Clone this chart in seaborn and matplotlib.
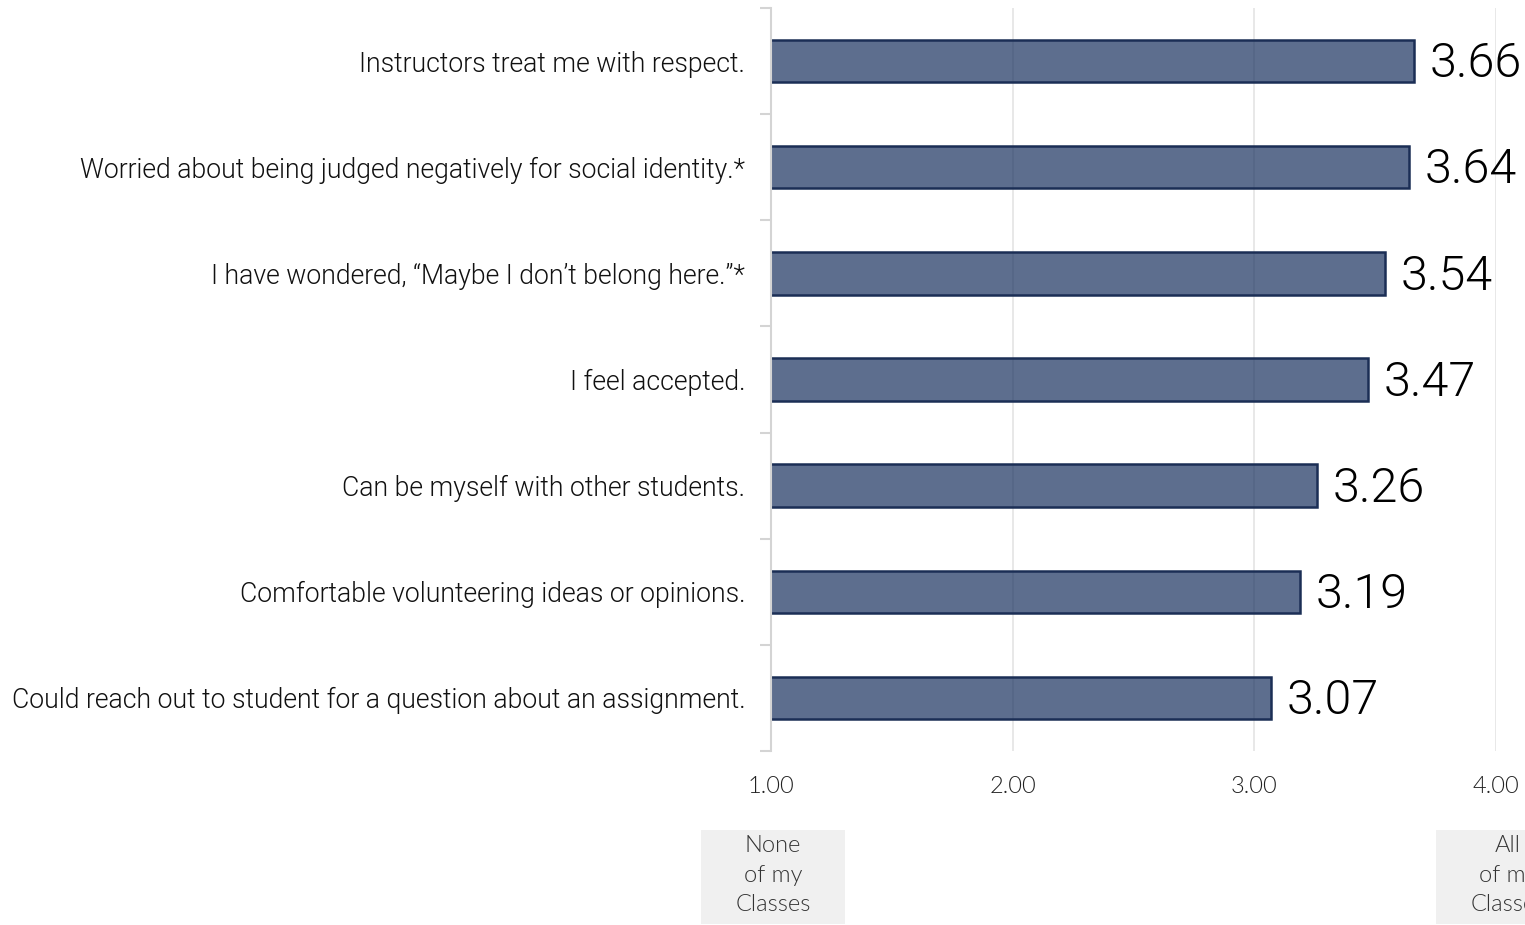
import os
import matplotlib
matplotlib.use("Agg")
import matplotlib.pyplot as plt
from matplotlib import font_manager as fm
from matplotlib.font_manager import FontProperties
from matplotlib.patches import Rectangle
from matplotlib.colors import to_rgba
import seaborn as sns
import pandas as pd

items = [
    "Instructors treat me with respect.",
    "Worried about being judged negatively for social identity.*",
    "I have wondered, \u201cMaybe I don\u2019t belong here.\u201d*",
    "I feel accepted.",
    "Can be myself with other students.",
    "Comfortable volunteering ideas or opinions.",
    "Could reach out to student for a question about an assignment.",
]
scores = [3.66, 3.64, 3.54, 3.47, 3.26, 3.19, 3.07]
x_ticks = [1.0, 2.0, 3.0, 4.0]
scale_ends = ["None\nof my\nClasses", "All\nof my\nClasses"]

sns.set_theme(style="white")
plt.rcParams["font.family"] = ["Roboto", "DejaVu Sans"]


def font(basename, family, weight, size):
    """Pick a specific font file when present, else fall back to family/weight."""
    for f in fm.fontManager.ttflist:
        if os.path.basename(f.fname) == basename:
            return FontProperties(fname=f.fname, size=size)
    return FontProperties(family=family, weight=weight, size=size)


roboto_label = font("Roboto-Light.ttf", "Roboto", "light", 19.2)
roboto_value = font("Roboto-Light.ttf", "Roboto", "light", 34.8)
lato_tick = font("Lato-Light.ttf", "Lato", "light", 17)
lato_box = font("Lato-Light.ttf", "Lato", "light", 17)

df = pd.DataFrame({"item": items, "score": scores})

fig = plt.figure(figsize=(15.25, 9.25), dpi=100)
W, H = 1525, 925
ax = fig.add_axes([771 / W, 1 - 751 / H, (1496 - 771) / W, (751 - 8) / H])

sns.barplot(data=df, x="score", y="item", orient="h", width=0.4, ax=ax,
            color="#203864", zorder=2)
face = to_rgba("#1e3662", 0.72)
for p in ax.patches:
    p.set_facecolor(face)
    p.set_edgecolor("#1b2e55")
    p.set_linewidth(1.8)

ax.set_xlim(1.0, 4.0)
ax.set_ylim(6.5, -0.5)
ax.set_xlabel("")
ax.set_ylabel("")

# value labels
for i, v in enumerate(scores):
    ax.text(v + 0.065, i + 0.03, f"{v:.2f}", va="center", ha="left",
            fontproperties=roboto_value, color="#000000", clip_on=False)

# grid and axes styling
ax.set_xticks(x_ticks)
ax.set_xticklabels([f"{t:.2f}" for t in x_ticks], fontproperties=lato_tick,
                   color="#222222")
for t in x_ticks[1:]:
    ax.axvline(t, color="#e6e6e6", lw=1.3, zorder=0)
ax.tick_params(axis="x", length=0, pad=18)

ax.tick_params(axis="y", which="major", length=0, pad=18.5)
for lab in ax.get_yticklabels():
    lab.set_fontproperties(roboto_label)
    lab.set_color("#111111")
ax.set_yticks([i + 0.5 for i in range(-1, len(items))], minor=True)
ax.tick_params(axis="y", which="minor", length=8, width=1.5, color="#d4d4d4", left=True)

for s in ["top", "right", "bottom"]:
    ax.spines[s].set_visible(False)
ax.spines["left"].set_color("#d4d4d4")
ax.spines["left"].set_linewidth(1.5)

# scale anchor boxes below the axis
for cx, txt in [(773, scale_ends[0]), (1508, scale_ends[1])]:
    fig.patches.append(Rectangle(((cx - 72) / W, 1 - 924 / H), 144 / W, 94 / H,
                                 transform=fig.transFigure, facecolor="#f0f0f0",
                                 edgecolor="none"))
    fig.text(cx / W, 1 - 875 / H, txt, ha="center", va="center",
             fontproperties=lato_box, color="#333333", linespacing=1.5)

fig.savefig("out.png", dpi=100)
